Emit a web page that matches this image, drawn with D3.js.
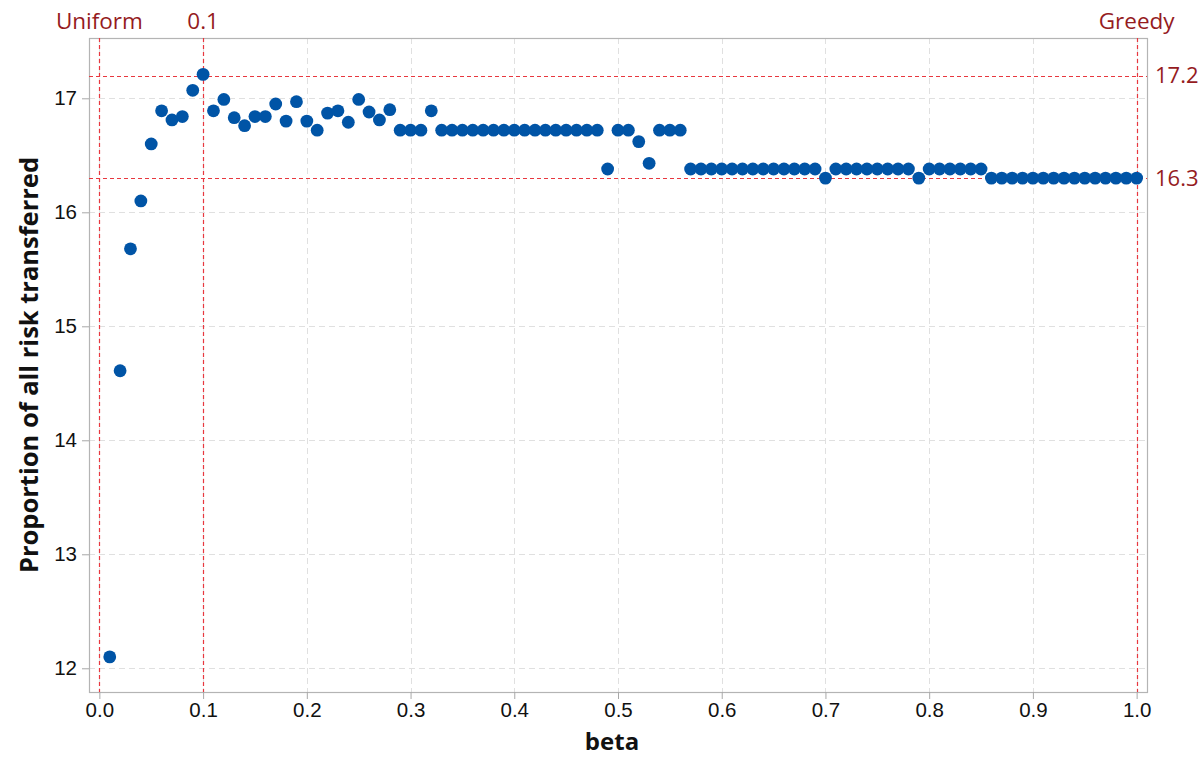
<!DOCTYPE html>
<html>
<head>
<meta charset="utf-8">
<script src="https://cdn.jsdelivr.net/npm/d3@7"></script>
<style>
  body { margin: 0; background: #fff; }
  svg { display: block; font-family: "Open Sans", "Noto Sans", sans-serif; }
</style>
</head>
<body>
<div id="chart"></div>
<script>
// beta values (x) and proportion of all risk transferred (y)
const betas = [
  0.01, 0.02, 0.03, 0.04, 0.05, 0.06, 0.07, 0.08, 0.09, 0.10,
  0.11, 0.12, 0.13, 0.14, 0.15, 0.16, 0.17, 0.18, 0.19, 0.20,
  0.21, 0.22, 0.23, 0.24, 0.25, 0.26, 0.27, 0.28, 0.29, 0.30,
  0.31, 0.32, 0.33, 0.34, 0.35, 0.36, 0.37, 0.38, 0.39, 0.40,
  0.41, 0.42, 0.43, 0.44, 0.45, 0.46, 0.47, 0.48, 0.49, 0.50,
  0.51, 0.52, 0.53, 0.54, 0.55, 0.56, 0.57, 0.58, 0.59, 0.60,
  0.61, 0.62, 0.63, 0.64, 0.65, 0.66, 0.67, 0.68, 0.69, 0.70,
  0.71, 0.72, 0.73, 0.74, 0.75, 0.76, 0.77, 0.78, 0.79, 0.80,
  0.81, 0.82, 0.83, 0.84, 0.85, 0.86, 0.87, 0.88, 0.89, 0.90,
  0.91, 0.92, 0.93, 0.94, 0.95, 0.96, 0.97, 0.98, 0.99, 1.00
];
const proportions = [
  12.10, 14.61, 15.68, 16.10, 16.60, 16.89, 16.81, 16.84, 17.07, 17.21,
  16.89, 16.99, 16.83, 16.76, 16.84, 16.84, 16.95, 16.80, 16.97, 16.80,
  16.72, 16.87, 16.89, 16.79, 16.99, 16.88, 16.81, 16.90, 16.72, 16.72,
  16.72, 16.89, 16.72, 16.72, 16.72, 16.72, 16.72, 16.72, 16.72, 16.72,
  16.72, 16.72, 16.72, 16.72, 16.72, 16.72, 16.72, 16.72, 16.38, 16.72,
  16.72, 16.62, 16.43, 16.72, 16.72, 16.72, 16.38, 16.38, 16.38, 16.38,
  16.38, 16.38, 16.38, 16.38, 16.38, 16.38, 16.38, 16.38, 16.38, 16.30,
  16.38, 16.38, 16.38, 16.38, 16.38, 16.38, 16.38, 16.38, 16.30, 16.38,
  16.38, 16.38, 16.38, 16.38, 16.38, 16.30, 16.30, 16.30, 16.30, 16.30,
  16.30, 16.30, 16.30, 16.30, 16.30, 16.30, 16.30, 16.30, 16.30, 16.30
];
const xTicks = [0, 0.1, 0.2, 0.3, 0.4, 0.5, 0.6, 0.7, 0.8, 0.9, 1.0];
const yTicks = [12, 13, 14, 15, 16, 17];
// reference lines
const refX = [0, 0.1, 1.0];
const refXLabels = ["Uniform", "0.1", "Greedy"];
const refY = [17.2, 16.3];
const refYLabels = ["17.2", "16.3"];

const width = 1203, height = 758;
const margin = { top: 38, left: 89, bottom: 66, right: 56 };
const iwidth = width - margin.left - margin.right;
const iheight = height - margin.top - margin.bottom;

const svg = d3.select("#chart").append("svg")
  .attr("width", width)
  .attr("height", height);
const g = svg.append("g").attr("transform", `translate(${margin.left},${margin.top})`);

const x = d3.scaleLinear().domain([-0.01, 1.01]).range([0, iwidth]);
const y = d3.scaleLinear().domain([11.792, 17.529]).range([iheight, 0]);
const px = v => Math.round(v) + 0.5;

// gridlines
g.append("g").selectAll("line").data(xTicks).enter().append("line")
  .attr("x1", d => px(x(d))).attr("x2", d => px(x(d)))
  .attr("y1", 0).attr("y2", iheight)
  .attr("stroke", "#e0e0e0").attr("stroke-dasharray", "6,4");
g.append("g").selectAll("line").data(yTicks).enter().append("line")
  .attr("x1", 0).attr("x2", iwidth)
  .attr("y1", d => px(y(d))).attr("y2", d => px(y(d)))
  .attr("stroke", "#e0e0e0").attr("stroke-dasharray", "6,4");

// frame
g.append("rect")
  .attr("x", 0.5).attr("y", 0.5)
  .attr("width", iwidth).attr("height", iheight)
  .attr("fill", "none").attr("stroke", "#b4b4b4").attr("stroke-width", 1.2);

// axes
const xAxis = g.append("g")
  .attr("transform", `translate(0,${iheight})`)
  .call(d3.axisBottom(x).tickValues(xTicks).tickFormat(d3.format(".1f")).tickSize(7).tickPadding(3));
const yAxis = g.append("g")
  .call(d3.axisLeft(y).tickValues(yTicks).tickFormat(d3.format("d")).tickSize(7).tickPadding(5));
[xAxis, yAxis].forEach(a => {
  a.select(".domain").remove();
  a.selectAll(".tick line").attr("stroke", "#a8a8a8");
  a.selectAll(".tick text").attr("fill", "#111").style("font-size", "20.5px");
});

// reference lines
g.append("g").selectAll("line").data(refX).enter().append("line")
  .attr("x1", d => px(x(d))).attr("x2", d => px(x(d)))
  .attr("y1", 0).attr("y2", iheight)
  .attr("stroke", "#e8383f").attr("stroke-width", 1.2).attr("stroke-dasharray", "4,3");
g.append("g").selectAll("line").data(refY).enter().append("line")
  .attr("x1", 0).attr("x2", iwidth)
  .attr("y1", d => px(y(d))).attr("y2", d => px(y(d)))
  .attr("stroke", "#e8383f").attr("stroke-width", 1.2).attr("stroke-dasharray", "4,3");

g.append("g").selectAll("text").data(refX).enter().append("text")
  .attr("x", d => x(d))
  .attr("y", -9)
  .attr("text-anchor", "middle")
  .attr("fill", "#951b1e")
  .style("font-size", "22.5px")
  .text((d, i) => refXLabels[i]);
g.append("g").selectAll("text").data(refY).enter().append("text")
  .attr("x", iwidth + 8)
  .attr("y", d => y(d))
  .attr("dy", "0.36em")
  .attr("fill", "#951b1e")
  .style("font-size", "22px")
  .text((d, i) => refYLabels[i]);

// points
g.append("g").selectAll("circle").data(betas).enter().append("circle")
  .attr("cx", d => x(d))
  .attr("cy", (d, i) => y(proportions[i]))
  .attr("r", 6.4)
  .attr("fill", "#0054a6");

// axis titles
svg.append("text")
  .attr("x", margin.left + iwidth / 2 - 6)
  .attr("y", 750)
  .attr("text-anchor", "middle")
  .attr("fill", "#111")
  .style("font-size", "24px").style("font-weight", "bold")
  .text("beta");
svg.append("text")
  .attr("transform", `translate(38,${margin.top + iheight / 2}) rotate(-90)`)
  .attr("text-anchor", "middle")
  .attr("fill", "#111")
  .style("font-size", "25.5px").style("font-weight", "bold")
  .text("Proportion of all risk transferred");
</script>
</body>
</html>
